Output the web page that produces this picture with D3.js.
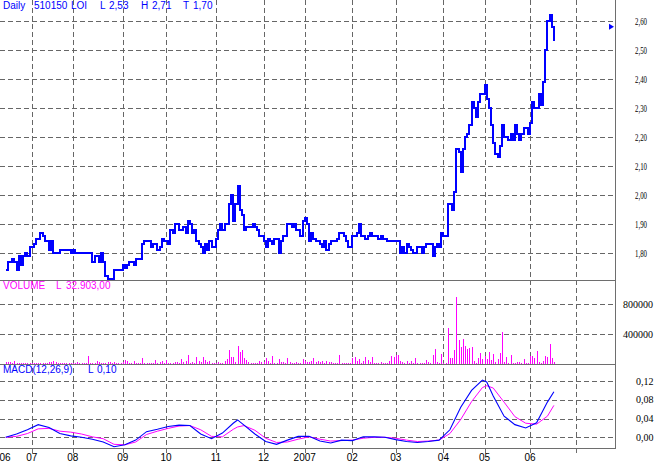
<!DOCTYPE html>
<html><head><meta charset="utf-8">
<script src="https://cdn.jsdelivr.net/npm/d3@7/dist/d3.min.js"></script>
<style>body{margin:0;background:#fff}svg{display:block}</style>
</head><body>
<svg id="c" width="656" height="466"></svg>
<script>
// ---- data (daily closes, 2006-06 .. 2007-06) ----
const closePrices = [
 1.74,1.77,1.77,1.78,1.77,1.74,1.79,1.76,1.79,1.80,
 1.79,1.82,1.82,1.83,1.85,1.85,1.87,1.86,1.84,1.84,
 1.81,1.84,1.80,1.80,1.80,1.81,1.81,1.81,1.81,1.81,
 1.80,1.81,1.80,1.80,1.80,1.80,1.80,1.80,1.80,1.80,
 1.77,1.79,1.79,1.77,1.80,1.77,1.72,1.71,1.71,1.71,
 1.74,1.74,1.74,1.74,1.76,1.75,1.76,1.77,1.77,1.76,
 1.78,1.78,1.78,1.83,1.84,1.84,1.84,1.82,1.83,1.83,
 1.81,1.82,1.85,1.84,1.84,1.83,1.88,1.87,1.90,1.90,
 1.88,1.88,1.89,1.87,1.91,1.90,1.87,1.88,1.84,1.83,
 1.82,1.80,1.83,1.81,1.84,1.82,1.82,1.85,1.88,1.90,
 1.88,1.90,1.90,1.97,2.00,1.91,1.97,2.03,1.95,1.93,
 1.88,1.89,1.89,1.89,1.90,1.89,1.88,1.86,1.86,1.84,
 1.82,1.85,1.84,1.83,1.85,1.85,1.80,1.84,1.86,1.86,
 1.90,1.90,1.89,1.90,1.88,1.88,1.86,1.91,1.92,1.90,
 1.84,1.87,1.85,1.84,1.84,1.83,1.82,1.84,1.81,1.83,
 1.84,1.84,1.84,1.85,1.87,1.87,1.86,1.84,1.82,1.82,
 1.86,1.86,1.87,1.90,1.86,1.86,1.85,1.86,1.87,1.86,
 1.86,1.86,1.85,1.86,1.85,1.85,1.84,1.84,1.84,1.84,
 1.84,1.84,1.80,1.82,1.80,1.83,1.82,1.81,1.80,1.80,
 1.82,1.82,1.80,1.82,1.83,1.83,1.83,1.79,1.82,1.83,
 1.82,1.87,1.86,1.86,1.97,1.97,1.95,2.01,2.16,2.15,
 2.08,2.16,2.20,2.21,2.24,2.32,2.30,2.27,2.32,2.35,
 2.35,2.38,2.33,2.30,2.24,2.18,2.14,2.13,2.17,2.24,
 2.20,2.20,2.19,2.21,2.19,2.24,2.21,2.19,2.21,2.23,
 2.23,2.21,2.25,2.32,2.30,2.30,2.35,2.31,2.39,2.50,
 2.60,2.62,2.58,2.53
];
// daily volume, thousands of shares
const volumeThousands = [
 31,22,31,10,44,10,10,10,10,10,
 10,10,10,10,10,10,10,10,10,10,
 22,31,40,31,10,10,10,10,10,10,
 10,10,10,31,10,10,10,10,102,10,
 10,10,44,31,10,10,10,22,31,10,
 22,10,10,10,31,58,40,10,10,44,
 10,10,10,84,10,10,10,10,10,58,
 10,31,44,10,53,10,10,13,22,22,
 10,67,31,44,124,13,31,10,98,44,
 31,98,58,31,44,10,10,10,22,13,
 10,44,67,191,93,93,31,236,156,191,
 80,58,31,10,13,10,10,44,31,31,
 84,44,10,111,10,10,67,31,31,10,
 80,31,13,10,31,10,10,67,44,22,
 31,44,76,31,44,31,44,10,44,31,
 31,10,10,10,124,10,10,10,10,10,
 84,98,44,71,10,44,98,58,31,98,
 13,13,10,31,10,10,10,44,111,98,
 124,124,44,31,10,44,13,44,10,84,
 10,10,13,13,58,31,10,124,204,31,
 10,138,10,10,476,84,84,191,898,324,
 231,338,244,204,218,231,44,13,84,147,
 71,111,71,164,58,138,31,71,151,431,
 31,98,10,124,10,13,31,22,13,71,
 13,10,111,111,84,178,31,13,44,111,
 98,271,84,33
];
// MACD(12,26,9) read at these trading days
const macdDays = [0,5,10,15,20,25,30,35,40,45,50,55,60,65,70,75,80,85,90,95,100,105,107,110,115,120,125,130,135,140,145,150,155,160,165,170,175,180,185,190,195,200,205,210,215,220,222,225,230,235,240,245,250,253];
const macdLine = [0.000,0.007,0.016,0.027,0.021,0.008,0.003,0.000,-0.004,-0.010,-0.020,-0.016,-0.006,0.012,0.017,0.023,0.026,0.025,0.007,-0.003,0.009,0.030,0.037,0.026,0.007,-0.009,-0.015,-0.006,0.002,0.002,-0.008,-0.012,-0.006,-0.007,0.001,0.001,0.000,-0.005,-0.009,-0.011,-0.009,-0.006,0.016,0.064,0.100,0.122,0.118,0.088,0.045,0.027,0.020,0.031,0.075,0.097];
const signalLine = [0.000,0.002,0.008,0.018,0.019,0.013,0.011,0.007,0.001,-0.003,-0.015,-0.016,-0.010,0.006,0.013,0.019,0.024,0.025,0.016,0.002,0.001,0.017,0.022,0.025,0.015,-0.002,-0.011,-0.010,-0.004,0.001,-0.004,-0.008,-0.007,-0.006,-0.002,0.000,0.000,-0.002,-0.006,-0.009,-0.008,-0.006,0.008,0.038,0.076,0.106,0.110,0.105,0.075,0.044,0.030,0.028,0.045,0.068];
// month starts (trading-day index) and labels
const monthStartDay = [-1,12,31,54,74,97,119,138,160,180,202,221,242,263];
const monthLabels = ["06","07","08","09","10","11","12","2007","02","03","04","05","06",""];
const priceTicks = [1.80,1.90,2.00,2.10,2.20,2.30,2.40,2.50,2.60];
const volumeTicks = [400000,800000];
const macdTicks = [0.00,0.04,0.08,0.12];
const header = [["Daily",3],["510150",34],["LOI",71],["L",100],["2,53",109],["H",141],["2,71",152],["T",183],["1,70",193]];
const volumeHeader = [["VOLUME",3],["L",56],["32.903,00",66]];
const macdHeader = [["MACD(12,26,9)",3],["L",88],["0,10",97]];
const markerPrice = 2.58;

// ---- layout ----
const W = 615, priceBottom = 280, volBottom = 364, macdBottom = 448;
const svg = d3.select("#c");
const x = d3.scaleLinear().domain([0, closePrices.length - 1]).range([5.7, 553.9]);
const yP = d3.scaleLinear().domain([1.8, 2.6]).range([253, 21]);
const yV = d3.scaleLinear().domain([0, 800000]).range([volBottom, 304.3]);
const yM = d3.scaleLinear().domain([0, 0.12]).range([437.3, 381]);
const comma = f => v => d3.format(f)(v).replace(".", ",");
const gridCol = "#666", frameCol = "#6e6e6e";

const grid = svg.append("g").attr("stroke", gridCol).attr("stroke-dasharray", "5,3").attr("shape-rendering", "crispEdges");
const mx = monthStartDay.map(d => x(d));
grid.selectAll("line.v").data(mx.filter(v => v > 8 && v < W)).join("line")
  .attr("x1", d => Math.round(d) + 0.5).attr("x2", d => Math.round(d) + 0.5)
  .attr("y1", 0).attr("y2", macdBottom);
const hg = (ticks, sc) => grid.append("g").selectAll("line").data(ticks).join("line")
  .attr("x1", 0).attr("x2", W).attr("y1", d => Math.round(sc(d)) + 0.5).attr("y2", d => Math.round(sc(d)) + 0.5);
hg(priceTicks, yP); hg(volumeTicks, yV); hg(macdTicks, yM);

// volume bars
svg.append("g").attr("fill", "#ff00ff").attr("shape-rendering", "crispEdges")
  .selectAll("rect").data(volumeThousands).join("rect")
  .attr("x", (d, i) => Math.round(x(i)))
  .attr("width", 1)
  .attr("y", d => Math.round(yV(d * 1000)))
  .attr("height", d => volBottom - Math.round(yV(d * 1000)) + 1);

// price step line (pixel-snapped, like the original bitmap chart)
svg.append("path").datum(closePrices)
  .attr("fill", "none").attr("stroke", "#0000ff").attr("stroke-width", 2)
  .attr("shape-rendering", "crispEdges")
  .attr("d", d3.line().x((d, i) => Math.round(x(i))).y(d => Math.round(yP(d))).curve(d3.curveStepAfter));

// MACD lines
const ml = d3.line().x((d, i) => x(macdDays[i])).y(d => yM(d));
svg.append("path").datum(signalLine).attr("fill", "none").attr("stroke", "#ff00ff").attr("stroke-width", 1).attr("d", ml);
svg.append("path").datum(macdLine).attr("fill", "none").attr("stroke", "#0000ff").attr("stroke-width", 1.1).attr("d", ml);

// frame
const frame = svg.append("g").attr("stroke", frameCol).attr("shape-rendering", "crispEdges");
[priceBottom, volBottom, macdBottom].forEach(y => frame.append("line").attr("x1", 0).attr("x2", W + 0.5).attr("y1", y + 0.5).attr("y2", y + 0.5));
frame.append("line").attr("x1", W + 0.5).attr("x2", W + 0.5).attr("y1", 0).attr("y2", macdBottom + 1);
frame.selectAll("line.t").data(mx.filter(v => v > 8 && v < W)).join("line")
  .attr("x1", d => Math.round(d) + 0.5).attr("x2", d => Math.round(d) + 0.5)
  .attr("y1", macdBottom).attr("y2", macdBottom + 5);

// last-price marker
const my = yP(markerPrice);
svg.append("path").attr("fill", "#0000ff")
  .attr("d", `M${W - 6},${my - 3}L${W - 1},${my}L${W - 6},${my + 3}Z`);

// right axis labels
const lab = svg.append("g").attr("font-family", "Liberation Serif, serif").attr("fill", "#000");
lab.selectAll("text.p").data(priceTicks).join("text")
  .attr("x", 635).attr("y", d => yP(d) + 3.5).attr("font-size", 10)
  .attr("textLength", 12).attr("lengthAdjust", "spacingAndGlyphs").text(comma(".2f"));
lab.selectAll("text.v").data(volumeTicks).join("text")
  .attr("x", 623).attr("y", d => yV(d) + 3.5).attr("font-size", 10).text(d => d3.format("d")(d));
lab.selectAll("text.m").data(macdTicks).join("text")
  .attr("x", 636).attr("y", d => yM(d) + 3.5).attr("font-size", 10).text(comma(".2f"));

// bottom month labels
svg.append("g").attr("font-family", "Liberation Sans, Arial, sans-serif").attr("font-size", 10).attr("fill", "#000")
  .attr("text-anchor", "middle")
  .selectAll("text").data(monthLabels).join("text")
  .attr("x", (d, i) => Math.max(mx[i], 5)).attr("y", 461).text(d => d);

// panel headers
const hdr = (items, y, col) => svg.append("g").attr("font-family", "Liberation Sans, Arial, sans-serif")
  .attr("font-size", 10).attr("fill", col)
  .selectAll("text").data(items).join("text").attr("x", d => d[1]).attr("y", y).text(d => d[0]);
hdr(header, 9, "#0000ff");
hdr(volumeHeader, 289, "#ff00ff");
hdr(macdHeader, 373, "#0000ff");
</script>
</body></html>
